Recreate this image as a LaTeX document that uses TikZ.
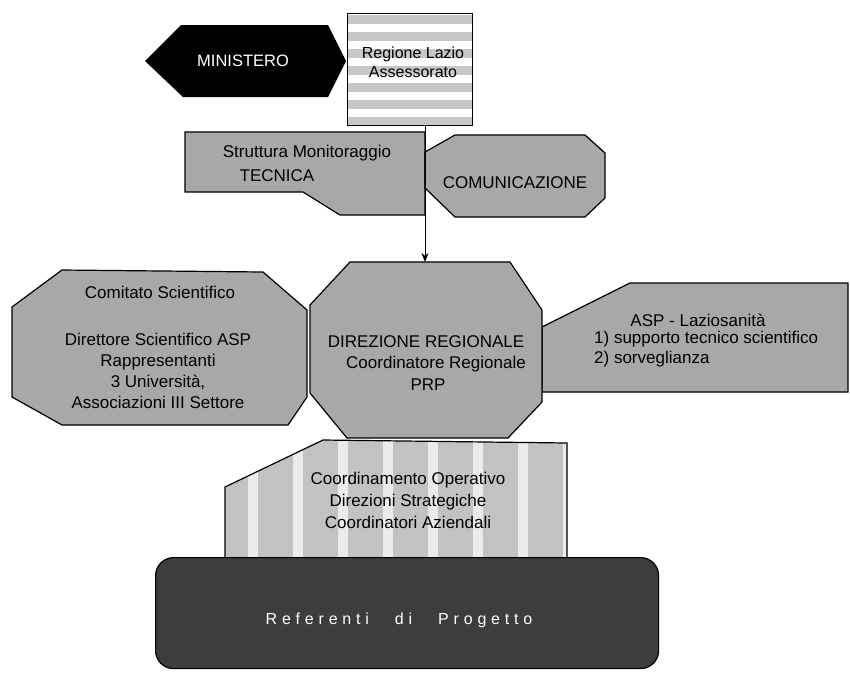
\documentclass[tikz,border=0pt]{standalone}
\usepackage{fontspec}
\setmainfont{Liberation Sans}
\newfontfamily\spacedfont[LetterSpace=30]{Liberation Sans}
\usetikzlibrary{arrows.meta}
\definecolor{midgray}{gray}{0.66}
\definecolor{bandgray}{gray}{0.78}
\definecolor{coordgray}{gray}{0.76}
\definecolor{coordlight}{gray}{0.92}
\definecolor{darkbox}{gray}{0.24}
\tikzset{
  shapeline/.style={draw=black, line width=1.2pt, line join=miter},
  graybox/.style={shapeline, fill=midgray},
  txt/.style={inner sep=0pt, font=\fontsize{17}{20.5}\selectfont, text=black},
}
\begin{document}
\begin{tikzpicture}[x=1pt,y=-1pt]
\useasboundingbox (0,0) rectangle (850,673);

% MINISTERO
\fill[black] (145,61) -- (181,25) -- (328,25) -- (346,61) -- (328,97) -- (183,97) -- cycle;
\node[txt, text=white, font=\fontsize{16.5}{20}\selectfont] (min) at (243,61) {MINISTERO};

% Regione Lazio
\begin{scope}
  \clip (347,13) rectangle (472,125);
  \foreach \yy in {15,32,...,125} \fill[bandgray] (347,\yy) rectangle (472,\yy+9);
\end{scope}
\node[shapeline, minimum width=125pt, minimum height=112pt, inner sep=0pt, anchor=north west] (reg) at (347,13) {};
\node[txt, align=center, font=\fontsize{16}{19}\selectfont] (regt) at (413,62) {Regione Lazio\\Assessorato};

% Struttura Monitoraggio
\draw[graybox] (185,132) -- (425,132) -- (425,215) -- (340,215) -- (303,192) -- (185,192) -- cycle;
\node[txt] (strt1) at (307,153) {Struttura Monitoraggio};
\node[txt] (strt2) at (277,176) {TECNICA};

% COMUNICAZIONE
\draw[graybox] (425,152) -- (455,135) -- (585,135) -- (605,153) -- (605,198) -- (585,217) -- (455,217) -- (425,188) -- cycle;
\node[txt] (com) at (515,183) {COMUNICAZIONE};

% Comitato Scientifico
\draw[graybox] (12,307) -- (62,270) -- (263,272) -- (307,310) -- (307,397) -- (288,425) -- (62,425) -- (12,397) -- cycle;
\node[txt] (cs1) at (160,292) {Comitato Scientifico};
\node[txt, align=center, font=\fontsize{17}{21}\selectfont] (cs2) at (158,371) {Direttore Scientifico ASP\\Rappresentanti\\3 Università,\\Associazioni III Settore};

% ASP - Laziosanita
\draw[graybox] (542,327) -- (630,283) -- (848,283) -- (848,392) -- (542,392) -- cycle;
\node[txt] (asp1) at (698,320) {ASP - Laziosanità};
\node[txt, align=left, anchor=west, font=\fontsize{17}{19.5}\selectfont] (asp2) at (594,349) {1) supporto tecnico scientifico\\2) sorveglianza};

% DIREZIONE REGIONALE
\draw[graybox] (310,305) -- (350,262) -- (510,262) -- (542,310) -- (542,402) -- (508,438) -- (347,438) -- (310,393) -- cycle;
\coordinate (dirtop) at (425,262);
\node[txt] (dir1) at (426,342) {DIREZIONE REGIONALE};
\node[txt] (dir2) at (436,364) {Coordinatore Regionale};
\node[txt] (dir3) at (428,385) {PRP};

% Coordinamento Operativo
\begin{scope}
  \clip (225,487) -- (323,440) -- (567,443) -- (567,562) -- (225,562) -- cycle;
  \fill[coordgray] (200,430) rectangle (580,570);
  \foreach \xx in {248,293,...,570} \fill[coordlight] (\xx,430) rectangle (\xx+10,570);
\end{scope}
\draw[shapeline] (225,562) -- (225,487) -- (323,440) -- (567,443) -- (567,562);
\node[txt, align=center, font=\fontsize{17}{22}\selectfont] (coord) at (408,500) {Coordinamento Operativo\\Direzioni Strategiche\\Coordinatori Aziendali};

% Referenti di Progetto
\node[draw=black, line width=1.2pt, fill=darkbox, rounded corners=18pt, minimum width=503pt, minimum height=111pt, inner sep=0pt, anchor=north west] (ref) at (155,557) {};
\node[inner sep=0pt, text=white, font=\spacedfont\fontsize{16}{19}\selectfont] (reft) at (399,620) {Referenti\hspace{26pt}di\hspace{26pt}Progetto};

% connector
\draw[line width=1pt, -{Stealth[length=9pt,width=7pt]}] (reg.south -| dirtop) -- (dirtop);
\end{tikzpicture}
\end{document}
